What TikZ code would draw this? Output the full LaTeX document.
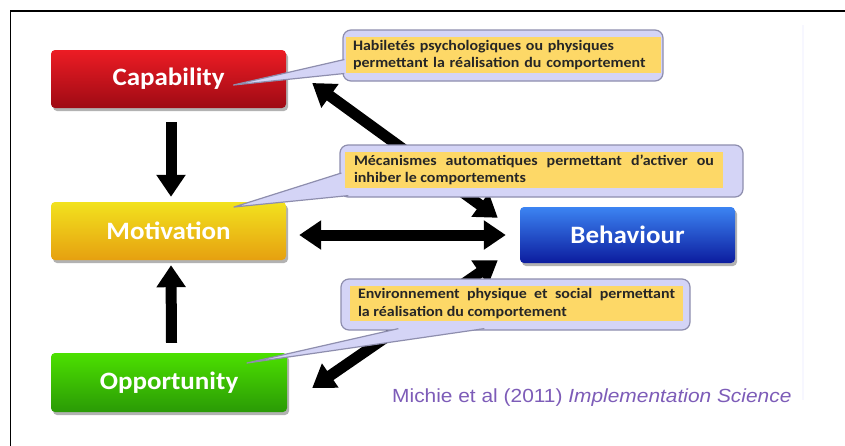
\documentclass[tikz,border=0pt]{standalone}
\usepackage{fontspec}
\setmainfont{Carlito}
\newfontfamily\labelfont[FakeStretch=1.08]{Carlito}
\newfontfamily\notefont[FakeStretch=1.1]{Carlito}
\newfontfamily\citefont[FakeStretch=1.1]{Liberation Sans}
\usetikzlibrary{arrows.meta,shadows}

\definecolor{capTop}{HTML}{EC1C24}
\definecolor{capBot}{HTML}{9E0A14}
\definecolor{motTop}{HTML}{F2E21E}
\definecolor{motBot}{HTML}{E6A010}
\definecolor{oppTop}{HTML}{4CE000}
\definecolor{oppBot}{HTML}{2A9A06}
\definecolor{behTop}{HTML}{3C84F2}
\definecolor{behBot}{HTML}{0C1C9E}
\definecolor{noteYellow}{HTML}{FDD867}
\definecolor{noteLilac}{HTML}{D4D4F6}
\definecolor{noteEdge}{HTML}{8E8EAE}
\definecolor{noteText}{HTML}{262626}
\definecolor{citePurple}{HTML}{7D5CB8}

\tikzset{
  factor/.style={rounded corners=4pt, minimum height=58pt, inner sep=0pt,
    text=white, font=\labelfont\fontsize{25}{28}\selectfont\bfseries,
    general shadow={fill=black!30, shadow xshift=2pt, shadow yshift=-3pt}},
  bigarrow/.style={line width=11pt, draw=black},
  tipA/.style={-{Triangle[width=28pt,length=22pt]}},
  tipAB/.style={{Triangle[width=28pt,length=22pt]}-{Triangle[width=28pt,length=22pt]}},
  noteframe/.style={draw=noteEdge, line width=1.2pt, fill=noteLilac,
    rounded corners=8pt, inner sep=0pt},
  notetext/.style={fill=noteYellow, inner ysep=3pt, text=noteText,
    font=\notefont\fontsize{14.5}{17.5}\selectfont\bfseries},
  tailfill/.style={fill=noteLilac},
  tailedge/.style={draw=noteEdge, line width=1.2pt, line join=round},
}

\begin{document}
\begin{tikzpicture}[x=1pt, y=-1pt]
  \useasboundingbox (0,0) rectangle (845,445);
  \fill[white] (0,0) rectangle (845,445);

  % outer frame and faint slide edge
  \draw[line width=1.6pt] (10.5,11) rectangle (870,470);
  \draw[blue!3, line width=1.5pt] (803,25) -- (803,400);

  % the four COM-B boxes
  \node[factor, minimum width=235pt, top color=capTop, bottom color=capBot]
    (cap) at (168.5,79) {Capability};
  \node[factor, minimum width=235pt, top color=motTop, bottom color=motBot]
    (mot) at (168.5,231) {Motivation};
  \node[factor, minimum width=236pt, minimum height=59pt, top color=oppTop, bottom color=oppBot]
    (opp) at (169,382.5) {Opportunity};
  \node[factor, minimum width=215pt, minimum height=56pt, top color=behTop, bottom color=behBot]
    (beh) at (627.5,235) {Behaviour};

  % influence arrows
  \draw[bigarrow, tipA] ([shift={(2.5,14)}]cap.south) -- ([shift={(2.5,-5)}]mot.north);
  \draw[bigarrow, tipA] ([shift={(2.5,-10)}]opp.north) -- ([shift={(2.5,5)}]mot.south);
  \draw[bigarrow, tipAB] ([shift={(13,4)}]mot.east) -- ([shift={(-14,0)}]beh.west);
  \draw[bigarrow, tipAB] ([shift={(26,4)}]cap.east) -- ([shift={(-22,11)}]beh.north west);
  \draw[bigarrow, tipAB] ([shift={(-22,-3)}]beh.south west) -- ([shift={(25,5.5)}]opp.east);

  % pointer tips of the notes
  \coordinate (p1) at ([shift={(65,6)}]cap.center);
  \coordinate (p2) at ([shift={(65.5,-24)}]mot.center);
  \coordinate (p3) at ([shift={(78,-19.5)}]opp.center);

  % note on capability
  \node[noteframe, minimum width=320pt, minimum height=51pt] (f1) at (503,55.5) {};
  \coordinate (a1) at ([shift={(2,4)}]f1.west);
  \coordinate (b1) at ([shift={(2,18)}]f1.west);
  \fill[tailfill] (a1) -- (p1) -- (b1) -- cycle;
  \draw[tailedge] (a1) -- (p1) -- (b1);
  \node[notetext, text width=301pt, inner xsep=7pt, align=left] (t1) at (503.5,55)
    {Habiletés psychologiques ou physiques\\permettant la réalisation du comportement};

  % note on motivation
  \node[noteframe, minimum width=403pt, minimum height=52pt] (f2) at (541.5,171) {};
  \coordinate (a2) at ([shift={(2,2)}]f2.west);
  \coordinate (b2) at ([shift={(9,-2)}]f2.south west);
  \fill[tailfill] (a2) -- (p2) -- (b2) -- cycle;
  \draw[tailedge] (a2) -- (p2) -- (b2);
  \node[notetext, text width=360pt, inner xsep=9pt, align=justify] (t2) at (534,170)
    {Mécanismes automatiques permettant d’activer ou\linebreak inhiber le comportements};

  % note on opportunity
  \node[noteframe, minimum width=349pt, minimum height=51pt] (f3) at (515.5,304.5) {};
  \coordinate (a3) at ([shift={(58,-2)}]f3.south west);
  \coordinate (b3) at ([shift={(144,-2)}]f3.south west);
  \fill[tailfill] (a3) -- (p3) -- (b3) -- cycle;
  \draw[tailedge] (a3) -- (p3) -- (b3);
  \node[notetext, text width=317pt, inner xsep=8pt, align=justify] (t3) at (516.5,303.5)
    {Environnement physique et social permettant\linebreak la réalisation du comportement};

  % reference line
  \node[anchor=west, inner sep=0pt, text=citePurple, font=\citefont\fontsize{19}{22}\selectfont]
    (ref) at (392,398) {Michie et al (2011) \textit{Implementation Science}};
\end{tikzpicture}
\end{document}
